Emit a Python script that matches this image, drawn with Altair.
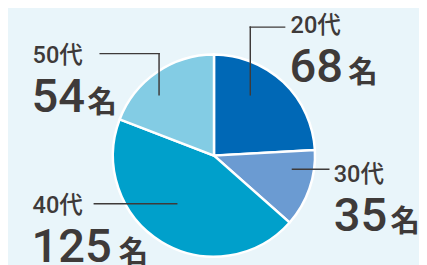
import altair as alt
import pandas as pd

categories = ["20代", "30代", "40代", "50代"]
counts = [68, 35, 125, 54]
unit = "名"
colors = ["#0068b6", "#6b9bd2", "#00a0cb", "#83cce4"]

# annotation layout (pixel positions inside the chart)
label_x = [288, 332, 25, 25]
label_y = [23, 175, 206, 54]
num_x = [287, 332, 24, 24]
num_y = [73, 225, 256, 104]
unit_x = [347, 390, 113, 81]

seg_cat = ["20代", "20代", "30代", "40代", "50代", "50代"]
seg_x1 = [247, 247, 290, 88, 94, 154]
seg_y1 = [17, 17, 162, 197, 44, 44]
seg_x2 = [282, 247, 327, 172, 154, 154]
seg_y2 = [17, 86, 162, 197, 44, 86]

BG = "#e9f5fa"
TXT = "#3e3a39"
FONT = "Noto Sans CJK JP"
NUMFONT = "Roboto, 'Noto Sans CJK JP'"

df = pd.DataFrame({
    "cat": categories,
    "count": counts,
    "order": list(range(len(categories))),
    "num": [str(c) for c in counts],
    "unit": [unit] * len(categories),
    "lx": label_x, "ly": label_y,
    "nx": num_x, "ny": num_y,
    "ux": unit_x,
})
segs = pd.DataFrame({"cat": seg_cat, "x": seg_x1, "y": seg_y1, "x2": seg_x2, "y2": seg_y2})

pie = alt.Chart(df).mark_arc(radius=103, stroke="white", strokeWidth=2.5).encode(
    theta=alt.Theta("count:Q", stack=True),
    order=alt.Order("order:Q"),
    color=alt.Color("cat:N", scale=alt.Scale(domain=categories, range=colors), legend=None),
    x=alt.value(210),
    y=alt.value(148),
)

rules = alt.Chart(segs).mark_rule(color=TXT, strokeWidth=1.5, strokeCap="square").encode(
    x=alt.X("x:Q", scale=None, axis=None),
    y=alt.Y("y:Q", scale=None, axis=None),
    x2="x2:Q",
    y2="y2:Q",
)

labels = alt.Chart(df).mark_text(
    align="left", baseline="alphabetic", font=NUMFONT, fontSize=24, fontWeight=500, color=TXT
).encode(
    x=alt.X("lx:Q", scale=None, axis=None),
    y=alt.Y("ly:Q", scale=None, axis=None),
    text="cat:N",
)

nums = alt.Chart(df).mark_text(
    align="left", baseline="alphabetic", font="Roboto", fontSize=48, fontWeight=500, color=TXT
).encode(
    x=alt.X("nx:Q", scale=None, axis=None),
    y=alt.Y("ny:Q", scale=None, axis=None),
    text="num:N",
)

units = alt.Chart(df).mark_text(
    align="left", baseline="alphabetic", font=FONT, fontSize=30, fontWeight="bold", color=TXT
).encode(
    x=alt.X("ux:Q", scale=None, axis=None),
    y=alt.Y("ny:Q", scale=None, axis=None),
    text="unit:N",
)

chart = alt.layer(pie, rules, labels, nums, units).properties(
    width=419, height=257, background=BG, padding=0,
    autosize=alt.AutoSizeParams(type="none"),
).configure_view(stroke=None)

chart.save("out.html", embed_options={"renderer": "svg", "actions": False})
